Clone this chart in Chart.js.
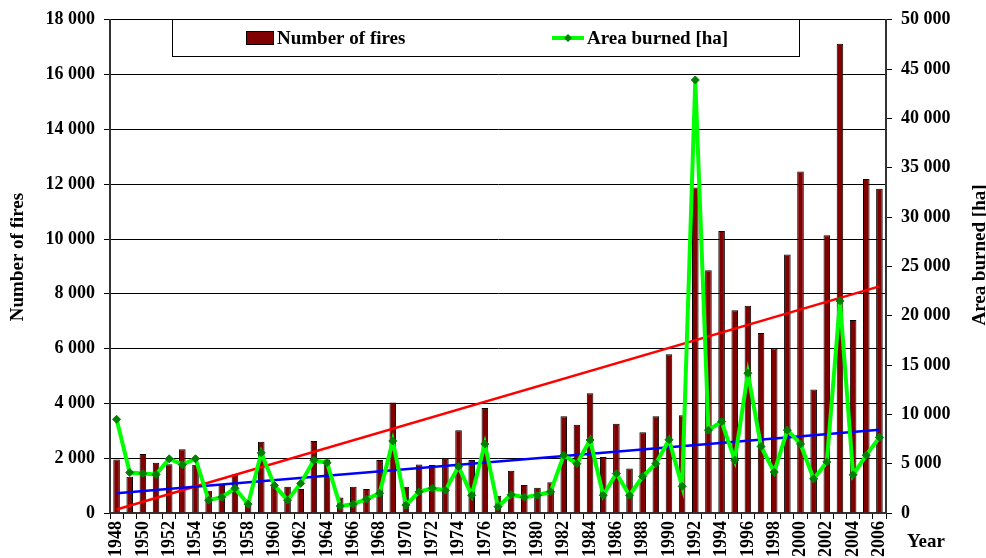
<!DOCTYPE html>
<html>
<head>
<meta charset="utf-8">
<script src="https://cdn.jsdelivr.net/npm/chart.js@4/dist/chart.umd.min.js"></script>
<style>
  html, body { margin: 0; padding: 0; background: #fff; }
  #wrap { width: 986px; height: 558px; position: relative; }
</style>
</head>
<body>
<div id="wrap"><canvas id="c" width="986" height="558"></canvas></div>
<script>
const years = [1948,1949,1950,1951,1952,1953,1954,1955,1956,1957,1958,1959,1960,1961,1962,1963,1964,1965,1966,1967,1968,1969,1970,1971,1972,1973,1974,1975,1976,1977,1978,1979,1980,1981,1982,1983,1984,1985,1986,1987,1988,1989,1990,1991,1992,1993,1994,1995,1996,1997,1998,1999,2000,2001,2002,2003,2004,2005,2006];

const numberOfFires = [1950,1320,2150,1830,1780,2330,1760,810,1020,1410,350,2600,1020,960,880,2630,1950,570,960,880,1930,4030,960,1770,1750,1980,3020,1930,3830,630,1540,1020,920,1120,3530,3220,4370,2040,3260,1620,2950,3530,5790,3570,11880,8860,10290,7400,7560,6570,6000,9430,12460,4510,10140,17130,7040,12190,11830];

const areaBurned = [9500,4100,4000,3900,5500,4900,5500,1300,1600,2500,900,6100,2800,1300,3000,5350,5100,700,900,1400,2000,7300,800,2150,2500,2300,4700,1800,7000,640,1850,1600,1800,2150,5860,5000,7400,1800,4000,1800,3700,5000,7430,2700,43900,8400,9260,5360,14170,6740,4150,8400,7000,3460,5180,21500,3870,5870,7670];

// Trend lines: only the two end points
const firesTrendEnds = [130, 8270];
const areaTrendEnds = [2000, 8450];

const leftTicks = [0,2000,4000,6000,8000,10000,12000,14000,16000,18000];
const rightTicks = [0,5000,10000,15000,20000,25000,30000,35000,40000,45000,50000];

const seriesLabels = ['Number of fires', 'Area burned [ha]'];
const axisTitles = { left: 'Number of fires', right: 'Area burned [ha]', x: 'Year' };

function endsToSeries(ends) {
  const arr = years.map(() => null);
  arr[0] = ends[0];
  arr[arr.length - 1] = ends[1];
  return arr;
}

function fmt(v) {
  if (v === 0) return '0';
  const th = Math.floor(v / 1000);
  const rest = String(v % 1000).padStart(3, '0');
  return th + ' ' + rest;
}

const FONT = 'Liberation Serif';
const tickFont = { family: FONT, size: 18, weight: 'bold' };

const extras = {
  id: 'extras',
  afterDraw(chart) {
    const ctx = chart.ctx;
    ctx.save();
    // Legend box
    const bx = 172, by = 19, bw = 627, bh = 37;
    ctx.fillStyle = '#fff';
    ctx.fillRect(bx, by, bw, bh);
    ctx.strokeStyle = '#000';
    ctx.lineWidth = 1;
    ctx.strokeRect(bx + 0.5, by + 0.5, bw, bh);
    const cy = 38;
    // bar swatch
    ctx.fillStyle = '#800000';
    ctx.fillRect(246, cy - 7, 27, 14);
    ctx.strokeStyle = '#000';
    ctx.strokeRect(246.5, cy - 6.5, 27, 13);
    ctx.fillStyle = '#000';
    ctx.font = 'bold 19px "' + FONT + '"';
    ctx.textBaseline = 'middle';
    ctx.textAlign = 'left';
    ctx.fillText(seriesLabels[0], 277, cy + 1);
    // line swatch
    ctx.strokeStyle = '#00FF00';
    ctx.lineWidth = 4;
    ctx.beginPath();
    ctx.moveTo(552, cy);
    ctx.lineTo(584, cy);
    ctx.stroke();
    ctx.fillStyle = '#008000';
    ctx.beginPath();
    ctx.moveTo(568, cy - 4);
    ctx.lineTo(572, cy);
    ctx.lineTo(568, cy + 4);
    ctx.lineTo(564, cy);
    ctx.closePath();
    ctx.fill();
    ctx.fillStyle = '#000';
    ctx.fillText(seriesLabels[1], 587, cy + 1);

    // Axis titles
    ctx.font = 'bold 19px "' + FONT + '"';
    ctx.textAlign = 'center';
    ctx.textBaseline = 'middle';
    ctx.save();
    ctx.translate(18, 257);
    ctx.rotate(-Math.PI / 2);
    ctx.fillText(axisTitles.left, 0, 0);
    ctx.restore();
    ctx.save();
    ctx.translate(980, 255);
    ctx.rotate(-Math.PI / 2);
    ctx.fillText(axisTitles.right, 0, 0);
    ctx.restore();
    ctx.textAlign = 'left';
    ctx.fillText(axisTitles.x, 907, 542);
    ctx.restore();
  }
};

new Chart(document.getElementById('c'), {
  data: {
    labels: years,
    datasets: [
      {
        type: 'line',
        label: seriesLabels[1],
        data: areaBurned,
        yAxisID: 'y1',
        borderColor: '#00FF00',
        borderWidth: 4,
        pointStyle: 'rectRot',
        pointRadius: 4,
        pointBackgroundColor: '#008000',
        pointBorderColor: '#008000',
        pointBorderWidth: 1,
        tension: 0,
        order: 1
      },
      {
        type: 'line',
        label: 'Area trend',
        data: endsToSeries(areaTrendEnds),
        yAxisID: 'y1',
        borderColor: '#0000FF',
        borderWidth: 2.5,
        pointRadius: 0,
        spanGaps: true,
        order: 2
      },
      {
        type: 'line',
        label: 'Fires trend',
        data: endsToSeries(firesTrendEnds),
        yAxisID: 'y',
        borderColor: '#FF0000',
        borderWidth: 2.5,
        pointRadius: 0,
        spanGaps: true,
        order: 3
      },
      {
        type: 'bar',
        label: seriesLabels[0],
        data: numberOfFires,
        yAxisID: 'y',
        backgroundColor: '#800000',
        borderColor: '#000',
        borderWidth: 1,
        barPercentage: 0.5,
        categoryPercentage: 1.0,
        order: 4
      }
    ]
  },
  options: {
    responsive: false,
    animation: false,
    layout: { padding: { top: 18, left: 0, right: 0, bottom: 0 } },
    plugins: { legend: { display: false }, tooltip: { enabled: false } },
    scales: {
      x: {
        type: 'category',
        offset: true,
        grid: { offset: true, drawOnChartArea: false, drawTicks: true, tickLength: 6, color: '#000', lineWidth: 1 },
        border: { color: '#333', width: 2 },
        ticks: {
          autoSkip: false, minRotation: 90, maxRotation: 90, padding: 2,
          font: tickFont, color: '#000',
          callback: (v, i) => (i % 2 === 0 ? String(years[i]) : '')
        },
        afterFit: s => { s.height = 45; }
      },
      y: {
        position: 'left',
        min: 0, max: 18000,
        afterBuildTicks: s => { s.ticks = leftTicks.map(v => ({ value: v })); },
        ticks: { font: tickFont, color: '#000', padding: 9, callback: v => fmt(v) },
        grid: { color: '#000', lineWidth: 1, tickLength: 6 },
        border: { color: '#333', width: 2 },
        afterFit: s => { s.width = 110; }
      },
      y1: {
        position: 'right',
        min: 0, max: 50000,
        afterBuildTicks: s => { s.ticks = rightTicks.map(v => ({ value: v })); },
        ticks: { font: tickFont, color: '#000', padding: 9, callback: v => fmt(v) },
        grid: { drawOnChartArea: false, color: '#000', lineWidth: 1, tickLength: 6 },
        border: { color: '#333', width: 2 },
        afterFit: s => { s.width = 100; }
      }
    }
  },
  plugins: [extras]
});
</script>
</body>
</html>
